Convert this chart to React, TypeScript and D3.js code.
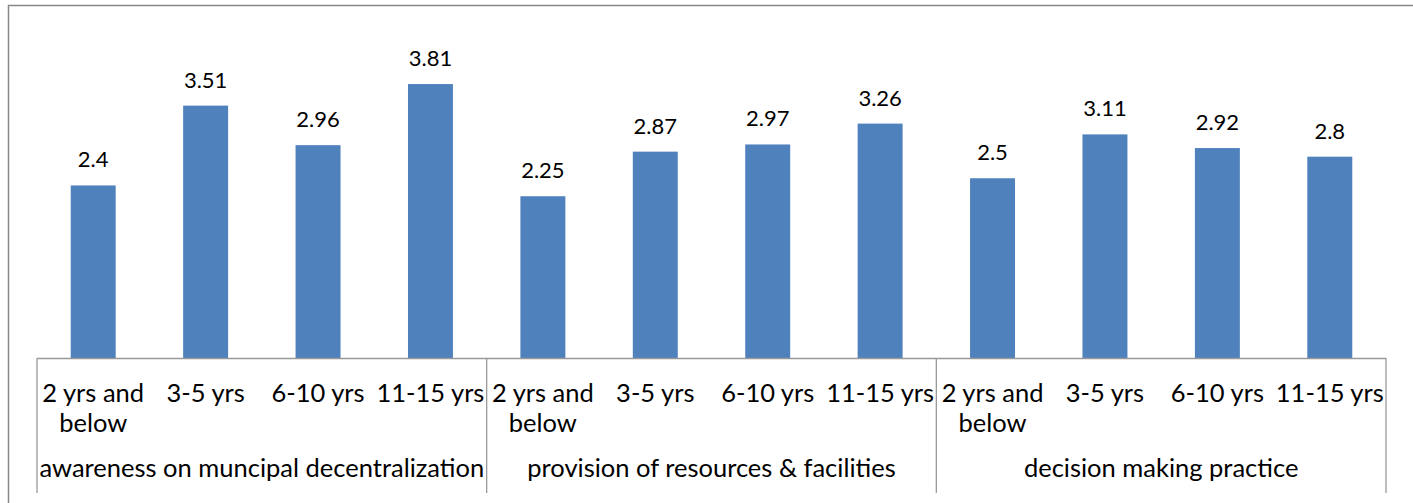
import { useEffect, useRef } from 'react';
import * as d3 from 'd3';

const groups = ['awareness on muncipal decentralization', 'provision of resources & facilities', 'decision making practice'];
const periods = [['2 yrs and', 'below'], ['3-5 yrs'], ['6-10 yrs'], ['11-15 yrs']];
const awareness = [2.4, 3.51, 2.96, 3.81];
const provision = [2.25, 2.87, 2.97, 3.26];
const decision = [2.5, 3.11, 2.92, 2.8];

function App() {
    const svgRef = useRef<SVGSVGElement>(null);

    useEffect(() => {
        const width = 1413;
        const height = 503;
        const font = 'Lato, "Open Sans", sans-serif';
        const svg = d3.select(svgRef.current);
        svg.selectAll('*').remove();
        svg.attr('width', width).attr('height', height);

        const seriesList = [awareness, provision, decision];
        const rows = groups.flatMap((g, gi) => periods.map((p, pi) => ({
            key: `${gi}-${pi}`, group: g, label: p, value: seriesList[gi][pi]
        })));

        const x = d3.scaleBand().domain(rows.map(d => d.key)).range([37, 1386]).paddingInner(0.6).paddingOuter(0.3);
        const y = d3.scaleLinear().domain([0, 5]).range([358, -1.5]);
        const step = x.step();
        const x0 = 37;

        // outer frame (only top and left are in view)
        svg.append('path')
            .attr('d', `M8.5,${height} V5.5 H${width}`)
            .attr('fill', 'none').attr('stroke', '#888').attr('stroke-width', 1.5);

        svg.append('g').selectAll('rect')
            .data(rows).join('rect')
            .attr('x', d => x(d.key)!)
            .attr('y', d => y(d.value))
            .attr('width', x.bandwidth())
            .attr('height', d => y(0) - y(d.value))
            .attr('fill', '#4F81BD');

        svg.append('g').selectAll('text')
            .data(rows).join('text')
            .attr('x', d => x(d.key)! + x.bandwidth() / 2)
            .attr('y', d => y(d.value) - 18)
            .attr('text-anchor', 'middle')
            .attr('font-family', font).attr('font-size', 22).attr('fill', '#000')
            .text(d => String(d.value));

        // axis line and group separators
        const axis = svg.append('g').attr('stroke', '#999').attr('stroke-width', 1.3);
        axis.append('line').attr('x1', 37).attr('x2', 1386).attr('y1', 358.5).attr('y2', 358.5);
        d3.range(groups.length + 1).forEach(i => {
            const xx = x0 + i * periods.length * step;
            axis.append('line').attr('x1', xx).attr('x2', xx).attr('y1', 358).attr('y2', 493);
        });

        const tick = svg.append('g').attr('font-family', font).attr('font-size', 25.5).attr('fill', '#000');
        rows.forEach(d => {
            d.label.forEach((line, li) => {
                tick.append('text')
                    .attr('x', x(d.key)! + x.bandwidth() / 2)
                    .attr('y', 402 + li * 30)
                    .attr('text-anchor', 'middle')
                    .text(line);
            });
        });

        groups.forEach((g, gi) => {
            tick.append('text')
                .attr('x', x0 + (gi + 0.5) * periods.length * step)
                .attr('y', 477)
                .attr('text-anchor', 'middle')
                .text(g);
        });
    }, []);

    return <svg ref={svgRef} style={{ position: 'absolute', left: 0, top: 0 }} />;
}

export default App;
